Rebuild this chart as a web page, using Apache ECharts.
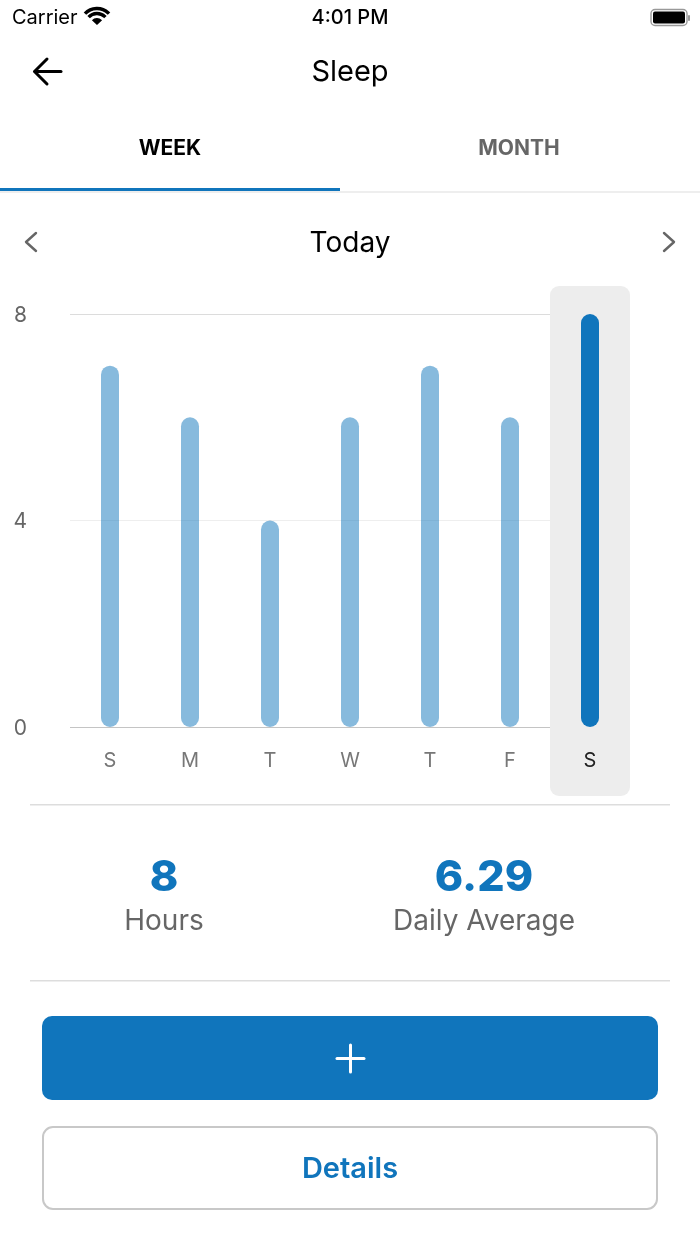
<!DOCTYPE html>
<html>
<head>
<meta charset="utf-8">
<title>Sleep</title>
<script src="https://cdn.jsdelivr.net/npm/echarts@6/dist/echarts.min.js"></script>
<style>
  html, body { margin: 0; padding: 0; background: #fff; }
  #chart { width: 700px; height: 1244px; }
</style>
</head>
<body>
<div id="chart"></div>
<script>
const days = ['S', 'M', 'T', 'W', 'T', 'F', 'S'];
const hours = [7, 6, 4, 6, 7, 6, 8];
const yTicks = [0, 4, 8];
const selectedDay = 6;

const BLUE = '#1075bc';
const FONT = 'Inter, Roboto, sans-serif';

const chart = echarts.init(document.getElementById('chart'));

function label(text, x, y, size, color, weight, family, align) {
  return {
    type: 'text',
    x: x,
    y: y,
    style: {
      text: text,
      fontSize: size,
      fill: color,
      fontWeight: weight || 400,
      fontFamily: family || FONT,
      align: align || 'center',
      verticalAlign: 'middle'
    }
  };
}

function line(x1, y1, x2, y2, color, width) {
  return {
    type: 'line',
    shape: { x1: x1, y1: y1, x2: x2, y2: y2 },
    style: { stroke: color, lineWidth: width, lineCap: 'round' }
  };
}

function polyline(points, color, width) {
  return {
    type: 'polyline',
    shape: { points: points },
    style: { stroke: color, lineWidth: width, fill: null, lineCap: 'round', lineJoin: 'round' }
  };
}

function box(x, y, w, h, r, fill, stroke, lineWidth) {
  return {
    type: 'rect',
    shape: { x: x, y: y, width: w, height: h, r: r },
    style: { fill: fill, stroke: stroke || null, lineWidth: lineWidth || 0 }
  };
}

function wifiArc(r) {
  return {
    type: 'arc',
    shape: { cx: 97, cy: 25, r: r, startAngle: -Math.PI * 0.76, endAngle: -Math.PI * 0.24 },
    style: { stroke: '#000', lineWidth: 3.4, fill: null }
  };
}

const chrome = [
  // status bar
  label('Carrier', 12, 18, 20, '#000', 400, FONT, 'left'),
  wifiArc(11.5),
  wifiArc(16.5),
  {
    type: 'sector',
    shape: { cx: 97, cy: 25, r0: 0, r: 7, startAngle: -Math.PI * 0.76, endAngle: -Math.PI * 0.24 },
    style: { fill: '#000' }
  },
  label('4:01 PM', 350, 18, 20, '#000', 500),
  box(651, 9.5, 36, 16, 4, '#fff', '#999', 1.4),
  box(653, 11.5, 32, 12, 2, '#000'),
  box(688, 15, 2, 6, 1, '#999'),

  // header
  polyline([[47, 59], [34.5, 71.5], [47, 84]], '#000', 3),
  line(35, 71.5, 61, 71.5, '#000', 3),
  label('Sleep', 350, 72, 29, '#000'),

  // tabs
  label('WEEK', 170, 149, 21, '#000', 700),
  label('MONTH', 519, 149, 21, '#666', 700),
  box(0, 191, 700, 2, 0, '#eeeeee'),
  box(0, 188, 340, 3, 0, BLUE),

  // date row
  polyline([[36, 233], [26, 242], [36, 251]], '#666', 2.4),
  polyline([[664, 233], [674, 242], [664, 251]], '#666', 2.4),
  label('Today', 350, 244, 28, '#000'),

  // summary
  box(30, 804, 640, 1.5, 0, '#dddddd'),
  label('8', 164, 878, 43, BLUE, 800),
  label('Hours', 164, 922, 28, '#666'),
  label('6.29', 484, 878, 43, BLUE, 800),
  label('Daily Average', 484, 922, 28, '#666'),
  box(30, 980, 640, 1.5, 0, '#dddddd'),

  // buttons
  box(42, 1016, 616, 84, 10, BLUE),
  line(337, 1058.5, 364, 1058.5, '#fff', 3),
  line(350.5, 1045, 350.5, 1072, '#fff', 3),
  box(43, 1127, 614, 82, 10, '#fff', '#c8c8c8', 2),
  label('Details', 350, 1169, 29, BLUE, 600)
];

const option = {
  animation: false,
  backgroundColor: '#fff',
  textStyle: { fontFamily: FONT },
  grid: { left: 70, width: 560, top: 314, height: 413, containLabel: false },
  xAxis: {
    type: 'category',
    data: days,
    z: 5,
    axisLine: { show: false },
    axisTick: { show: false },
    axisLabel: {
      margin: 24,
      fontSize: 20,
      fontFamily: FONT,
      color: function (value, index) {
        return index === selectedDay ? '#222' : '#777';
      }
    }
  },
  yAxis: {
    type: 'value',
    min: yTicks[0],
    max: yTicks[2],
    interval: yTicks[1],
    z: 0,
    axisLine: { show: false },
    axisTick: { show: false },
    axisLabel: {
      margin: 43,
      formatter: '{tick|{value}}',
      rich: {
        tick: { fontSize: 21, fontFamily: FONT, color: '#666', padding: [3, 0, 0, 0] }
      }
    },
    splitLine: { lineStyle: { color: ['#c4c4c4', '#eeeeee', '#dcdcdc'], width: 1 } }
  },
  series: [
    {
      // grey highlight behind the selected day
      type: 'custom',
      z: 1,
      clip: false,
      silent: true,
      data: [[selectedDay, 0]],
      encode: { x: 0, y: 1 },
      renderItem: function (params, api) {
        const cx = api.coord([api.value(0), 0])[0];
        const w = api.size([1, 0])[0];
        return {
          type: 'rect',
          shape: { x: cx - w / 2, y: 286, width: w, height: 510, r: 9 },
          style: { fill: '#ededed' }
        };
      }
    },
    {
      type: 'bar',
      z: 2,
      barWidth: 18,
      data: hours.map(function (v, i) {
        return {
          value: v,
          itemStyle: {
            color: BLUE,
            opacity: i === selectedDay ? 1 : 0.5,
            borderRadius: 9
          }
        };
      })
    }
  ],
  graphic: { elements: chrome }
};

chart.setOption(option);
</script>
</body>
</html>
